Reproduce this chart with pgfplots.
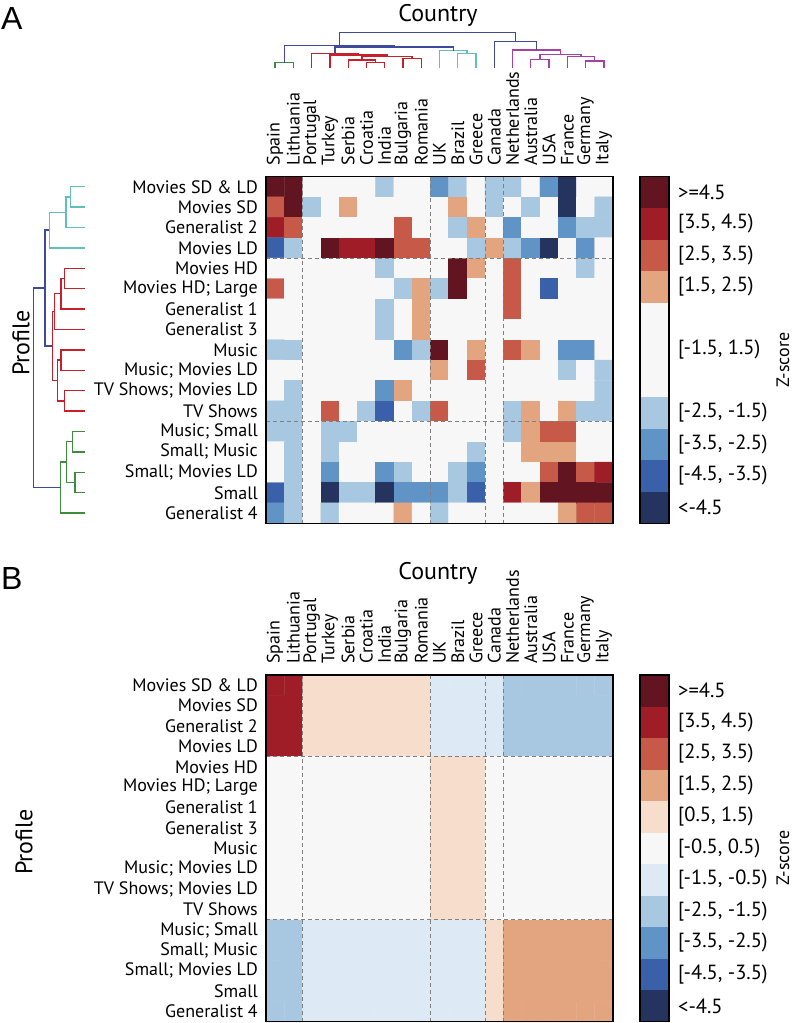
\documentclass[border=0pt]{standalone}
\usepackage{pgfplots}
\pgfplotsset{compat=1.18}
\usepackage{fontspec}
\setmainfont{PT Sans}
\newfontfamily\letterfont{Liberation Sans}
\definecolor{cN}{RGB}{36,52,94}
\definecolor{cB}{RGB}{58,96,170}
\definecolor{cM}{RGB}{96,148,199}
\definecolor{cL}{RGB}{168,200,226}
\definecolor{cVL}{RGB}{221,233,244}
\definecolor{cW}{RGB}{248,247,248}
\definecolor{cVS}{RGB}{246,221,204}
\definecolor{cS}{RGB}{227,164,128}
\definecolor{cO}{RGB}{199,89,72}
\definecolor{cR}{RGB}{158,29,39}
\definecolor{cD}{RGB}{99,20,33}
\definecolor{dCyan}{RGB}{100,190,190}
\definecolor{dRed}{RGB}{200,32,42}
\definecolor{dGreen}{RGB}{62,140,62}
\definecolor{dBlue}{RGB}{64,74,156}
\definecolor{dMag}{RGB}{165,65,165}
\definecolor{gridgray}{RGB}{128,128,128}
\newcommand{\lblfont}{\fontsize{18}{18}\selectfont}
\newcommand{\cbfont}{\fontsize{20.5}{20.5}\selectfont}
\pgfplotsset{
  hm/.style={
    scale only axis, width=347pt, height=346.8pt,
    xmin=0, xmax=19, ymin=0, ymax=17, y dir=reverse,
    clip=false, axis on top,
    axis line style={line width=1.2pt},
    major tick length=0pt,
    xtick={0.5,1.5,...,18.5},
    xticklabels={Spain,Lithuania,Portugal,Turkey,Serbia,Croatia,India,Bulgaria,Romania,UK,Brazil,Greece,Canada,Netherlands,Australia,USA,France,Germany,Italy},
    ytick={0.5,1.5,...,16.5},
    yticklabels={Movies SD \& LD,Movies SD,Generalist 2,Movies LD,Movies HD,{Movies HD; Large},Generalist 1,Generalist 3,Music,{Music; Movies LD},{TV Shows; Movies LD},TV Shows,{Music; Small},{Small; Music},{Small; Movies LD},Small,Generalist 4},
    tick label style={font=\lblfont},
    xticklabel pos=upper,
    xticklabel style={rotate=90, anchor=west, inner sep=0pt, xshift=11pt},
    yticklabel style={anchor=east, inner sep=0pt, xshift=-8pt},
  },
  cb/.style={
    scale only axis, width=29pt, height=346.8pt,
    xmin=0, xmax=1, ymin=0, ymax=11,
    xtick=\empty, major tick length=0pt,
    axis line style={line width=1.2pt}, axis on top,
    yticklabel pos=upper,
    tick label style={font=\cbfont},
    yticklabel style={anchor=west, inner sep=0pt, xshift=9pt},
  },
  gl/.style={gridgray, line width=1.2pt, dash pattern=on 4pt off 3pt},
  cell/.style={matrix plot*, shader=faceted, faceted color=mapped color, line width=0.4pt, mesh/cols=19, point meta=explicit},
}
\begin{document}
\begin{tikzpicture}
\path[use as bounding box] (0,0) rectangle (796pt,-1023pt);
% ---------------- Panel A ----------------
\begin{axis}[hm, at={(266pt,-176.5pt)}, anchor=north west,
  colormap={zA}{rgb255=(36,52,94) rgb255=(58,96,170) rgb255=(96,148,199) rgb255=(168,200,226) rgb255=(248,247,248) rgb255=(227,164,128) rgb255=(199,89,72) rgb255=(158,29,39) rgb255=(99,20,33)},
  colormap access=direct]
\addplot[cell] table[row sep=\\,
  x expr={mod(\coordindex,19)+0.5}, y expr={floor((\coordindex+0.5)/19)+0.5}, meta expr={\thisrow{z}+4}] {
z\\
4\\ 4\\ 0\\ 0\\ 0\\ 0\\ -1\\ 0\\ 0\\ -2\\ -1\\ 0\\ -1\\ -1\\ 0\\ -2\\ -4\\ 0\\ 0\\
2\\ 4\\ -1\\ 0\\ 1\\ 0\\ 0\\ 0\\ 0\\ 0\\ 1\\ 0\\ -1\\ 0\\ -1\\ 0\\ -4\\ 0\\ -1\\
3\\ 2\\ 0\\ 0\\ 0\\ 0\\ 0\\ 2\\ 0\\ 0\\ -1\\ 1\\ 0\\ -2\\ 0\\ 0\\ -2\\ -1\\ -1\\
-3\\ -1\\ 0\\ 4\\ 3\\ 3\\ 4\\ 2\\ 2\\ 0\\ 0\\ -1\\ 1\\ -1\\ -2\\ -4\\ 0\\ -2\\ 0\\
0\\ 0\\ 0\\ 0\\ 0\\ 0\\ -1\\ 0\\ 0\\ 0\\ 4\\ 1\\ 0\\ 2\\ 0\\ 0\\ 0\\ -1\\ 0\\
2\\ 0\\ 0\\ 0\\ 0\\ 0\\ 0\\ -1\\ 1\\ -1\\ 4\\ 0\\ 0\\ 2\\ 0\\ -3\\ 0\\ 0\\ 0\\
0\\ 0\\ 0\\ 0\\ 0\\ 0\\ -1\\ 0\\ 1\\ 0\\ 0\\ 0\\ 0\\ 2\\ 0\\ 0\\ 0\\ 0\\ 0\\
0\\ 0\\ 0\\ 0\\ 0\\ 0\\ -1\\ 0\\ 1\\ 0\\ 0\\ 0\\ 0\\ 0\\ 0\\ 0\\ 0\\ 0\\ 0\\
-1\\ -1\\ 0\\ 0\\ 0\\ 0\\ 0\\ -2\\ -1\\ 4\\ 0\\ 1\\ 0\\ 2\\ 1\\ 0\\ -2\\ -2\\ 0\\
0\\ 0\\ 0\\ 0\\ 0\\ 0\\ 0\\ 0\\ 0\\ 1\\ 0\\ 2\\ 0\\ 0\\ 0\\ 0\\ -1\\ 0\\ -1\\
0\\ -1\\ 0\\ 0\\ 0\\ 0\\ -2\\ 1\\ 0\\ 0\\ 0\\ 0\\ 0\\ 0\\ 0\\ 0\\ 0\\ 0\\ -1\\
-1\\ -1\\ 0\\ 2\\ 0\\ -1\\ -3\\ 0\\ -1\\ 2\\ 0\\ 0\\ 0\\ -1\\ 1\\ 0\\ 1\\ -1\\ -1\\
-1\\ -1\\ 0\\ -1\\ -1\\ 0\\ 0\\ 0\\ 0\\ 0\\ 0\\ 0\\ 0\\ -1\\ 1\\ 2\\ 2\\ 0\\ 0\\
0\\ -1\\ 0\\ -1\\ 0\\ 0\\ 0\\ 0\\ 0\\ 0\\ 0\\ -1\\ 0\\ 0\\ 1\\ 1\\ 1\\ 0\\ 0\\
0\\ -1\\ 0\\ -2\\ 0\\ 0\\ -2\\ -1\\ 0\\ 0\\ -1\\ -2\\ 0\\ 0\\ 0\\ 2\\ 4\\ 2\\ 3\\
-3\\ -1\\ 0\\ -4\\ -1\\ -1\\ -4\\ -2\\ -2\\ -2\\ -1\\ -3\\ 0\\ 3\\ 1\\ 4\\ 4\\ 4\\ 4\\
-2\\ -1\\ 0\\ -1\\ 0\\ 0\\ 0\\ 1\\ 0\\ -1\\ 0\\ 0\\ 0\\ 0\\ 0\\ 0\\ 1\\ 2\\ 2\\
};
% block separators
\addplot[gl] coordinates {(2,0) (2,17)};
\addplot[gl] coordinates {(9,0) (9,17)};
\addplot[gl] coordinates {(12,0) (12,17)};
\addplot[gl] coordinates {(13,0) (13,17)};
\addplot[gl] coordinates {(0,4) (19,4)};
\addplot[gl] coordinates {(0,12) (19,12)};
% row dendrogram
\addplot[dCyan, line width=1.3pt, unbounded coords=jump] coordinates {
(-9.9,0.5) (-10.7,0.5) (-10.7,1.5) (-9.9,1.5) (nan,nan)
(-10.7,1.0) (-10.95,1.0) (-10.95,2.5) (-9.9,2.5) (nan,nan)
(-10.95,1.75) (-11.87,1.75) (-11.87,3.5) (-9.9,3.5)};
\addplot[dRed, line width=1.3pt, unbounded coords=jump] coordinates {
(-9.9,4.5) (-11.05,4.5) (-11.05,5.5) (-9.9,5.5) (nan,nan)
(-11.05,5.0) (-11.23,5.0) (-11.23,6.5) (-9.9,6.5) (nan,nan)
(-11.23,5.75) (-11.59,5.75) (-11.59,7.5) (-9.9,7.5) (nan,nan)
(-9.9,8.5) (-11.23,8.5) (-11.23,9.5) (-9.9,9.5) (nan,nan)
(-9.9,10.5) (-11.05,10.5) (-11.05,11.5) (-9.9,11.5) (nan,nan)
(-11.23,9.0) (-11.41,9.0) (-11.41,11.0) (-11.05,11.0) (nan,nan)
(-11.59,6.625) (-11.70,6.625) (-11.70,10.0) (-11.41,10.0)};
\addplot[dGreen, line width=1.3pt, unbounded coords=jump] coordinates {
(-9.9,12.5) (-10.59,12.5) (-10.59,13.5) (-9.9,13.5) (nan,nan)
(-9.9,14.5) (-10.46,14.5) (-10.46,15.5) (-9.9,15.5) (nan,nan)
(-10.59,13.0) (-10.92,13.0) (-10.92,15.0) (-10.46,15.0) (nan,nan)
(-10.92,14.0) (-11.25,14.0) (-11.25,16.5) (-9.9,16.5)};
\addplot[dBlue, line width=1.3pt, unbounded coords=jump] coordinates {
(-11.87,2.625) (-12.10,2.625) (-12.10,8.3125) (-11.70,8.3125) (nan,nan)
(-12.10,5.47) (-12.74,5.47) (-12.74,15.25) (-11.25,15.25)};
% column dendrogram
\addplot[dGreen, line width=1.3pt] coordinates {(0.5,-5.3) (0.5,-5.58) (1.5,-5.58) (1.5,-5.3)};
\addplot[dRed, line width=1.3pt, unbounded coords=jump] coordinates {
(5.5,-5.3) (5.5,-5.58) (6.5,-5.58) (6.5,-5.3) (nan,nan)
(4.5,-5.3) (4.5,-5.71) (6.0,-5.71) (6.0,-5.58) (nan,nan)
(7.5,-5.3) (7.5,-5.79) (8.5,-5.79) (8.5,-5.3) (nan,nan)
(5.25,-5.71) (5.25,-5.87) (8.0,-5.87) (8.0,-5.79) (nan,nan)
(3.5,-5.3) (3.5,-5.95) (6.625,-5.95) (6.625,-5.87) (nan,nan)
(2.5,-5.3) (2.5,-6.04) (5.06,-6.04) (5.06,-5.95)};
\addplot[dCyan, line width=1.3pt, unbounded coords=jump] coordinates {
(10.5,-5.3) (10.5,-6.04) (11.5,-6.04) (11.5,-5.3) (nan,nan)
(9.5,-5.3) (9.5,-6.17) (11.0,-6.17) (11.0,-6.04)};
\addplot[dMag, line width=1.3pt, unbounded coords=jump] coordinates {
(14.5,-5.3) (14.5,-5.74) (15.5,-5.74) (15.5,-5.3) (nan,nan)
(17.5,-5.3) (17.5,-5.66) (18.5,-5.66) (18.5,-5.3) (nan,nan)
(16.5,-5.3) (16.5,-5.87) (18.0,-5.87) (18.0,-5.66) (nan,nan)
(15.0,-5.74) (15.0,-5.98) (17.25,-5.98) (17.25,-5.87) (nan,nan)
(13.5,-5.3) (13.5,-6.20) (16.125,-6.20) (16.125,-5.98)};
\addplot[dBlue, line width=1.3pt, unbounded coords=jump] coordinates {
(3.78,-6.04) (3.78,-6.35) (10.25,-6.35) (10.25,-6.17) (nan,nan)
(1.0,-5.58) (1.0,-6.41) (7.02,-6.41) (7.02,-6.35) (nan,nan)
(12.5,-5.3) (12.5,-6.61) (14.81,-6.61) (14.81,-6.20) (nan,nan)
(4.01,-6.41) (4.01,-7.05) (13.66,-7.05) (13.66,-6.61)};
\end{axis}
% colorbar A
\begin{axis}[cb, at={(640pt,-176.5pt)}, anchor=north west,
  ytick={0.5,1.5,2.5,3.5,5.5,7.5,8.5,9.5,10.5},
  yticklabels={<-4.5,{[-4.5, -3.5)},{[-3.5, -2.5)},{[-2.5, -1.5)},{[-1.5, 1.5)},{[1.5, 2.5)},{[2.5, 3.5)},{[3.5, 4.5)},>=4.5}]
\addplot[fill=cN, draw=none] coordinates {(0,0) (1,0) (1,1) (0,1)} -- cycle;
\addplot[fill=cB, draw=none] coordinates {(0,1) (1,1) (1,2) (0,2)} -- cycle;
\addplot[fill=cM, draw=none] coordinates {(0,2) (1,2) (1,3) (0,3)} -- cycle;
\addplot[fill=cL, draw=none] coordinates {(0,3) (1,3) (1,4) (0,4)} -- cycle;
\addplot[fill=cW, draw=none] coordinates {(0,4) (1,4) (1,7) (0,7)} -- cycle;
\addplot[fill=cS, draw=none] coordinates {(0,7) (1,7) (1,8) (0,8)} -- cycle;
\addplot[fill=cO, draw=none] coordinates {(0,8) (1,8) (1,9) (0,9)} -- cycle;
\addplot[fill=cR, draw=none] coordinates {(0,9) (1,9) (1,10) (0,10)} -- cycle;
\addplot[fill=cD, draw=none] coordinates {(0,10) (1,10) (1,11) (0,11)} -- cycle;
\end{axis}
% ---------------- Panel B ----------------
\begin{axis}[hm, at={(266pt,-675pt)}, anchor=north west,
  colormap={zB}{rgb255=(36,52,94) rgb255=(58,96,170) rgb255=(96,148,199) rgb255=(168,200,226) rgb255=(221,233,244) rgb255=(248,247,248) rgb255=(246,221,204) rgb255=(227,164,128) rgb255=(199,89,72) rgb255=(158,29,39) rgb255=(99,20,33)},
  colormap access=direct]
\addplot[cell] table[row sep=\\,
  x expr={mod(\coordindex,19)+0.5}, y expr={floor((\coordindex+0.5)/19)+0.5}, meta expr={\thisrow{z}+5}] {
z\\
4\\ 4\\ 1\\ 1\\ 1\\ 1\\ 1\\ 1\\ 1\\ -1\\ -1\\ -1\\ -1\\ -2\\ -2\\ -2\\ -2\\ -2\\ -2\\
4\\ 4\\ 1\\ 1\\ 1\\ 1\\ 1\\ 1\\ 1\\ -1\\ -1\\ -1\\ -1\\ -2\\ -2\\ -2\\ -2\\ -2\\ -2\\
4\\ 4\\ 1\\ 1\\ 1\\ 1\\ 1\\ 1\\ 1\\ -1\\ -1\\ -1\\ -1\\ -2\\ -2\\ -2\\ -2\\ -2\\ -2\\
4\\ 4\\ 1\\ 1\\ 1\\ 1\\ 1\\ 1\\ 1\\ -1\\ -1\\ -1\\ -1\\ -2\\ -2\\ -2\\ -2\\ -2\\ -2\\
0\\ 0\\ 0\\ 0\\ 0\\ 0\\ 0\\ 0\\ 0\\ 1\\ 1\\ 1\\ 0\\ 0\\ 0\\ 0\\ 0\\ 0\\ 0\\
0\\ 0\\ 0\\ 0\\ 0\\ 0\\ 0\\ 0\\ 0\\ 1\\ 1\\ 1\\ 0\\ 0\\ 0\\ 0\\ 0\\ 0\\ 0\\
0\\ 0\\ 0\\ 0\\ 0\\ 0\\ 0\\ 0\\ 0\\ 1\\ 1\\ 1\\ 0\\ 0\\ 0\\ 0\\ 0\\ 0\\ 0\\
0\\ 0\\ 0\\ 0\\ 0\\ 0\\ 0\\ 0\\ 0\\ 1\\ 1\\ 1\\ 0\\ 0\\ 0\\ 0\\ 0\\ 0\\ 0\\
0\\ 0\\ 0\\ 0\\ 0\\ 0\\ 0\\ 0\\ 0\\ 1\\ 1\\ 1\\ 0\\ 0\\ 0\\ 0\\ 0\\ 0\\ 0\\
0\\ 0\\ 0\\ 0\\ 0\\ 0\\ 0\\ 0\\ 0\\ 1\\ 1\\ 1\\ 0\\ 0\\ 0\\ 0\\ 0\\ 0\\ 0\\
0\\ 0\\ 0\\ 0\\ 0\\ 0\\ 0\\ 0\\ 0\\ 1\\ 1\\ 1\\ 0\\ 0\\ 0\\ 0\\ 0\\ 0\\ 0\\
0\\ 0\\ 0\\ 0\\ 0\\ 0\\ 0\\ 0\\ 0\\ 1\\ 1\\ 1\\ 0\\ 0\\ 0\\ 0\\ 0\\ 0\\ 0\\
-2\\ -2\\ -1\\ -1\\ -1\\ -1\\ -1\\ -1\\ -1\\ -1\\ -1\\ -1\\ 1\\ 2\\ 2\\ 2\\ 2\\ 2\\ 2\\
-2\\ -2\\ -1\\ -1\\ -1\\ -1\\ -1\\ -1\\ -1\\ -1\\ -1\\ -1\\ 1\\ 2\\ 2\\ 2\\ 2\\ 2\\ 2\\
-2\\ -2\\ -1\\ -1\\ -1\\ -1\\ -1\\ -1\\ -1\\ -1\\ -1\\ -1\\ 1\\ 2\\ 2\\ 2\\ 2\\ 2\\ 2\\
-2\\ -2\\ -1\\ -1\\ -1\\ -1\\ -1\\ -1\\ -1\\ -1\\ -1\\ -1\\ 1\\ 2\\ 2\\ 2\\ 2\\ 2\\ 2\\
-2\\ -2\\ -1\\ -1\\ -1\\ -1\\ -1\\ -1\\ -1\\ -1\\ -1\\ -1\\ 1\\ 2\\ 2\\ 2\\ 2\\ 2\\ 2\\
};
\addplot[gl] coordinates {(2,0) (2,17)};
\addplot[gl] coordinates {(9,0) (9,17)};
\addplot[gl] coordinates {(12,0) (12,17)};
\addplot[gl] coordinates {(13,0) (13,17)};
\addplot[gl] coordinates {(0,4) (19,4)};
\addplot[gl] coordinates {(0,12) (19,12)};
\end{axis}
% colorbar B
\begin{axis}[cb, at={(640pt,-675pt)}, anchor=north west,
  ytick={0.5,1.5,...,10.5},
  yticklabels={<-4.5,{[-4.5, -3.5)},{[-3.5, -2.5)},{[-2.5, -1.5)},{[-1.5, -0.5)},{[-0.5, 0.5)},{[0.5, 1.5)},{[1.5, 2.5)},{[2.5, 3.5)},{[3.5, 4.5)},>=4.5}]
\addplot[fill=cN, draw=none] coordinates {(0,0) (1,0) (1,1) (0,1)} -- cycle;
\addplot[fill=cB, draw=none] coordinates {(0,1) (1,1) (1,2) (0,2)} -- cycle;
\addplot[fill=cM, draw=none] coordinates {(0,2) (1,2) (1,3) (0,3)} -- cycle;
\addplot[fill=cL, draw=none] coordinates {(0,3) (1,3) (1,4) (0,4)} -- cycle;
\addplot[fill=cVL, draw=none] coordinates {(0,4) (1,4) (1,5) (0,5)} -- cycle;
\addplot[fill=cW, draw=none] coordinates {(0,5) (1,5) (1,6) (0,6)} -- cycle;
\addplot[fill=cVS, draw=none] coordinates {(0,6) (1,6) (1,7) (0,7)} -- cycle;
\addplot[fill=cS, draw=none] coordinates {(0,7) (1,7) (1,8) (0,8)} -- cycle;
\addplot[fill=cO, draw=none] coordinates {(0,8) (1,8) (1,9) (0,9)} -- cycle;
\addplot[fill=cR, draw=none] coordinates {(0,9) (1,9) (1,10) (0,10)} -- cycle;
\addplot[fill=cD, draw=none] coordinates {(0,10) (1,10) (1,11) (0,11)} -- cycle;
\end{axis}
% titles
\node[font=\letterfont\fontsize{32}{32}\selectfont, anchor=north west, inner sep=0pt] at (1pt,-7pt) {A};
\node[font=\letterfont\fontsize{32}{32}\selectfont, anchor=north west, inner sep=0pt] at (1pt,-567pt) {B};
\node[font=\fontsize{24}{24}\selectfont] at (438pt,-15pt) {Country};
\node[font=\fontsize{24}{24}\selectfont] at (438pt,-573pt) {Country};
\node[font=\fontsize{24}{24}\selectfont, rotate=90] at (21pt,-343pt) {Profile};
\node[font=\fontsize{24}{24}\selectfont, rotate=90] at (24pt,-842pt) {Profile};
\node[font=\fontsize{18}{18}\selectfont, rotate=90, inner sep=0pt] at (783pt,-360pt) {Z-score};
\node[font=\fontsize{18}{18}\selectfont, rotate=90, inner sep=0pt] at (783pt,-858pt) {Z-score};
\end{tikzpicture}
\end{document}
